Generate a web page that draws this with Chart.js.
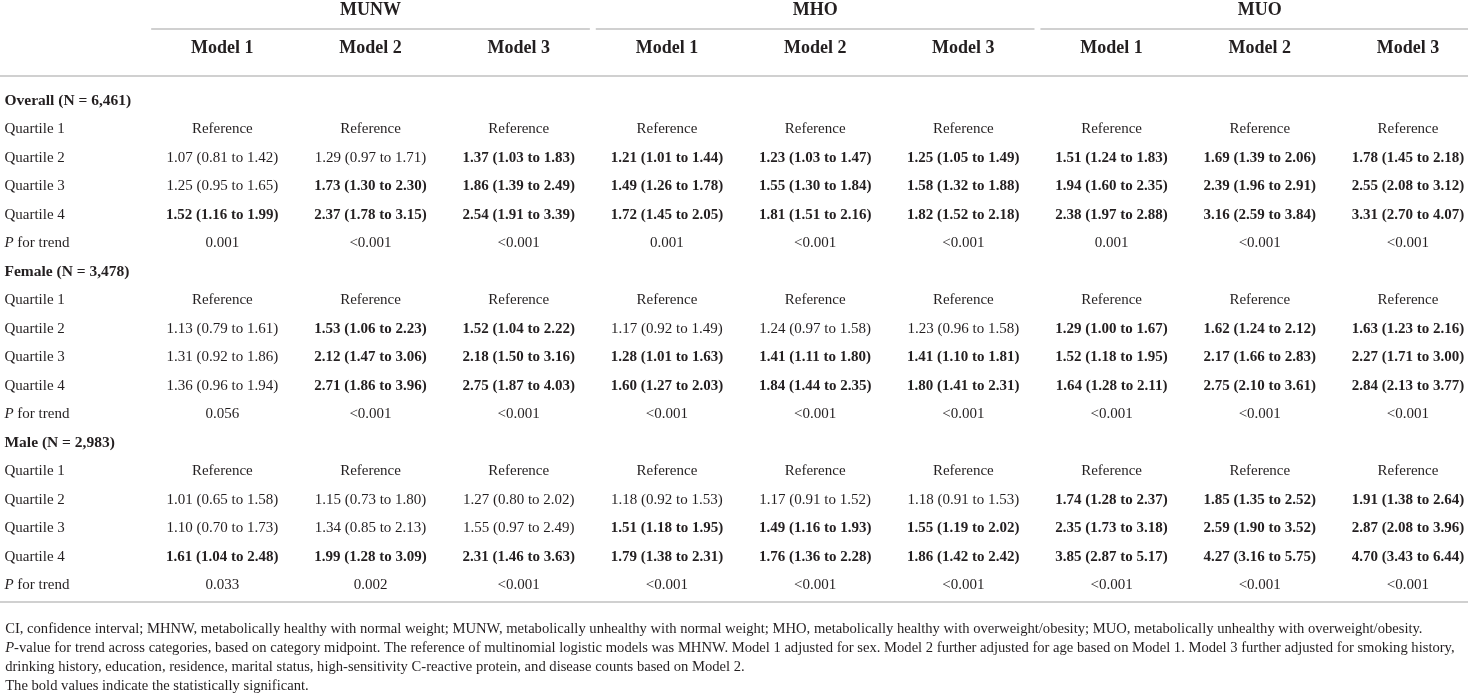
<!DOCTYPE html>
<html>
<head>
<meta charset="utf-8">
<script src="https://cdn.jsdelivr.net/npm/chart.js@4"></script>
<style>
  html, body { margin: 0; padding: 0; background: #fff; }
  #wrap { width: 1468px; height: 700px; position: relative; }
</style>
</head>
<body>
<div id="wrap"><canvas id="myChart"></canvas></div>
<script>
// table content
const groups = ['MUNW', 'MHO', 'MUO'];
const models = ['Model 1', 'Model 2', 'Model 3'];
const sections = ['Overall (N = 6,461)', 'Female (N = 3,478)', 'Male (N = 2,983)'];
const rowLabels = ['Quartile 1', 'Quartile 2', 'Quartile 3', 'Quartile 4'];
const refText = 'Reference';

// [OR, lower, upper] for Quartile 2..4, columns MUNW M1-M3, MHO M1-M3, MUO M1-M3
const overallOR = [
    [[1.07, 0.81, 1.42], [1.29, 0.97, 1.71], [1.37, 1.03, 1.83], [1.21, 1.01, 1.44], [1.23, 1.03, 1.47], [1.25, 1.05, 1.49], [1.51, 1.24, 1.83], [1.69, 1.39, 2.06], [1.78, 1.45, 2.18]],
    [[1.25, 0.95, 1.65], [1.73, 1.30, 2.30], [1.86, 1.39, 2.49], [1.49, 1.26, 1.78], [1.55, 1.30, 1.84], [1.58, 1.32, 1.88], [1.94, 1.60, 2.35], [2.39, 1.96, 2.91], [2.55, 2.08, 3.12]],
    [[1.52, 1.16, 1.99], [2.37, 1.78, 3.15], [2.54, 1.91, 3.39], [1.72, 1.45, 2.05], [1.81, 1.51, 2.16], [1.82, 1.52, 2.18], [2.38, 1.97, 2.88], [3.16, 2.59, 3.84], [3.31, 2.70, 4.07]]
];
const femaleOR = [
    [[1.13, 0.79, 1.61], [1.53, 1.06, 2.23], [1.52, 1.04, 2.22], [1.17, 0.92, 1.49], [1.24, 0.97, 1.58], [1.23, 0.96, 1.58], [1.29, 1.00, 1.67], [1.62, 1.24, 2.12], [1.63, 1.23, 2.16]],
    [[1.31, 0.92, 1.86], [2.12, 1.47, 3.06], [2.18, 1.50, 3.16], [1.28, 1.01, 1.63], [1.41, 1.11, 1.80], [1.41, 1.10, 1.81], [1.52, 1.18, 1.95], [2.17, 1.66, 2.83], [2.27, 1.71, 3.00]],
    [[1.36, 0.96, 1.94], [2.71, 1.86, 3.96], [2.75, 1.87, 4.03], [1.60, 1.27, 2.03], [1.84, 1.44, 2.35], [1.80, 1.41, 2.31], [1.64, 1.28, 2.11], [2.75, 2.10, 3.61], [2.84, 2.13, 3.77]]
];
const maleOR = [
    [[1.01, 0.65, 1.58], [1.15, 0.73, 1.80], [1.27, 0.80, 2.02], [1.18, 0.92, 1.53], [1.17, 0.91, 1.52], [1.18, 0.91, 1.53], [1.74, 1.28, 2.37], [1.85, 1.35, 2.52], [1.91, 1.38, 2.64]],
    [[1.10, 0.70, 1.73], [1.34, 0.85, 2.13], [1.55, 0.97, 2.49], [1.51, 1.18, 1.95], [1.49, 1.16, 1.93], [1.55, 1.19, 2.02], [2.35, 1.73, 3.18], [2.59, 1.90, 3.52], [2.87, 2.08, 3.96]],
    [[1.61, 1.04, 2.48], [1.99, 1.28, 3.09], [2.31, 1.46, 3.63], [1.79, 1.38, 2.31], [1.76, 1.36, 2.28], [1.86, 1.42, 2.42], [3.85, 2.87, 5.17], [4.27, 3.16, 5.75], [4.70, 3.43, 6.44]]
];
const overallP = ['0.001', '<0.001', '<0.001', '0.001', '<0.001', '<0.001', '0.001', '<0.001', '<0.001'];
const femaleP = ['0.056', '<0.001', '<0.001', '<0.001', '<0.001', '<0.001', '<0.001', '<0.001', '<0.001'];
const maleP = ['0.033', '0.002', '<0.001', '<0.001', '<0.001', '<0.001', '<0.001', '<0.001', '<0.001'];

const footnotes = [
    ['', 'CI, confidence interval; MHNW, metabolically healthy with normal weight; MUNW, metabolically unhealthy with normal weight; MHO, metabolically healthy with overweight/obesity; MUO, metabolically unhealthy with overweight/obesity.'],
    ['P', '-value for trend across categories, based on category midpoint. The reference of multinomial logistic models was MHNW. Model 1 adjusted for sex. Model 2 further adjusted for age based on Model 1. Model 3 further adjusted for smoking history,'],
    ['', 'drinking history, education, residence, marital status, high-sensitivity C-reactive protein, and disease counts based on Model 2.'],
    ['', 'The bold values indicate the statistically significant.']
];

const sectionOR = [overallOR, femaleOR, maleOR];
const sectionP = [overallP, femaleP, maleP];

// layout (in scale units)
const FONT = '"Liberation Serif", "Times New Roman", serif';
const TEXT = '#231f20';
const RULE = '#d0d0d0';
const labelX = -0.47;
const groupRowY = -3.17, modelRowY = -1.84;
const footY = 18.52, footStep = 0.667;

function fmt(v) { return v.toFixed(2); }

const cells = [];
function addCell(x, y, label, opts) {
    cells.push(Object.assign({ x: x, y: y, label: label, size: 15, bold: false, align: 'center', lead: '' }, opts || {}));
}

groups.forEach((g, gi) => {
    addCell(gi * 3 + 2, groupRowY, g, { bold: true, size: 18 });
    models.forEach((m, mi) => addCell(gi * 3 + mi + 1, modelRowY, m, { bold: true, size: 18 }));
});

sections.forEach((s, si) => {
    const base = si * 6;
    addCell(labelX, base, s, { bold: true, align: 'left', size: 15.5 });
    rowLabels.forEach((r, ri) => addCell(labelX, base + 1 + ri, r, { align: 'left' }));
    addCell(labelX, base + 5, ' for trend', { align: 'left', lead: 'P' });
    for (let c = 0; c < 9; c++) {
        addCell(c + 1, base + 1, refText);
        sectionOR[si].forEach((row, ri) => {
            const v = row[c];
            addCell(c + 1, base + 2 + ri, fmt(v[0]) + ' (' + fmt(v[1]) + ' to ' + fmt(v[2]) + ')', { bold: v[1] >= 1 });
        });
        addCell(c + 1, base + 5, sectionP[si][c]);
    }
});

footnotes.forEach((f, fi) => addCell(labelX + 0.005, footY + fi * footStep, f[1], { size: 14.6, align: 'left', lead: f[0], fit: true }));

// horizontal rules as line datasets
function rule(x1, x2, y) {
    return {
        type: 'line',
        data: [{ x: x1, y: y }, { x: x2, y: y }],
        borderColor: RULE,
        borderWidth: 2,
        pointRadius: 0,
        fill: false
    };
}
const rules = [];
groups.forEach((g, gi) => rules.push(rule(gi * 3 + 0.52, gi * 3 + 3.48, -2.53)));
rules.push(rule(-0.6, 9.5, -0.88));
rules.push(rule(-0.6, 9.5, 17.58));

const textPlugin = {
    id: 'cellText',
    afterDatasetsDraw(chart) {
        const ctx = chart.ctx;
        const meta = chart.getDatasetMeta(0);
        const right = chart.chartArea.right - 4;
        ctx.save();
        ctx.fillStyle = TEXT;
        ctx.textBaseline = 'middle';
        meta.data.forEach((pt, i) => {
            const d = chart.data.datasets[0].data[i];
            let x = pt.x;
            ctx.textAlign = d.align;
            if (d.lead) {
                ctx.font = 'italic ' + d.size + 'px ' + FONT;
                ctx.fillText(d.lead, x, pt.y);
                x += ctx.measureText(d.lead).width;
            }
            ctx.font = (d.bold ? 'bold ' : '') + d.size + 'px ' + FONT;
            if (d.fit) {
                ctx.fillText(d.label, x, pt.y, right - x);
            } else {
                ctx.fillText(d.label, x, pt.y);
            }
        });
        ctx.restore();
    }
};

const ctx = document.getElementById('myChart');

new Chart(ctx, {
    type: 'scatter',
    data: {
        datasets: [
            {
                label: 'cells',
                data: cells,
                pointRadius: 0,
                pointHoverRadius: 0
            },
            ...rules
        ]
    },
    options: {
        responsive: true,
        maintainAspectRatio: false,
        animation: false,
        events: [],
        layout: { padding: 0 },
        plugins: {
            legend: { display: false },
            tooltip: { enabled: false }
        },
        scales: {
            x: {
                type: 'linear',
                display: false,
                min: -0.5,
                max: 9.405
            },
            y: {
                type: 'linear',
                display: false,
                reverse: true,
                min: -3.544,
                max: 21.018
            }
        }
    },
    plugins: [textPlugin]
});
</script>
</body>
</html>
